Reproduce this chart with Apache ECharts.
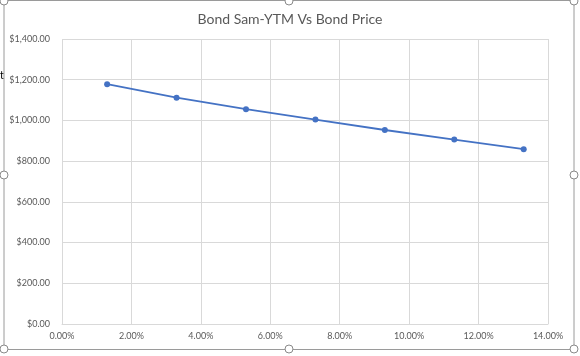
<!DOCTYPE html>
<html>
<head>
<meta charset="utf-8">
<script src="https://cdn.jsdelivr.net/npm/echarts@6/dist/echarts.min.js"></script>
<style>
html,body{margin:0;padding:0;background:#fff;}
#chart{width:580px;height:356px;}
</style>
</head>
<body>
<div id="chart"></div>
<script>
// Data
const ytm = [1.3, 3.3, 5.3, 7.3, 9.3, 11.3, 13.3];           // YTM in percent
const price = [1178, 1112, 1055, 1004, 953, 906, 859];         // bond price in $
const titleText = 'Bond Sam-YTM Vs Bond Price';

const points = ytm.map((x, i) => [x, price[i]]);
const fmtMoney = v => '$' + v.toLocaleString('en-US', {minimumFractionDigits: 2, maximumFractionDigits: 2});
const fmtPct = v => v.toFixed(2) + '%';

const chart = echarts.init(document.getElementById('chart'), null, {renderer: 'canvas'});

const handle = (x, y) => ({
  type: 'circle', shape: {cx: x, cy: y, r: 4},
  style: {fill: '#fff', stroke: '#8a8a8a', lineWidth: 1}, z: 100
});

chart.setOption({
  animation: false,
  backgroundColor: '#fff',
  title: {
    text: titleText, left: 'center', top: 7,
    textStyle: {fontFamily: 'Lato', fontSize: 14, fontWeight: 'normal', color: '#595959'}
  },
  grid: {left: 62, right: 32, top: 39, bottom: 32, containLabel: false},
  xAxis: {
    type: 'value', min: 0, max: 14, interval: 2,
    axisLine: {show: true, lineStyle: {color: '#d9d9d9'}},
    axisTick: {show: false},
    splitLine: {show: true, lineStyle: {color: '#d9d9d9', width: 1}},
    axisLabel: {formatter: fmtPct, color: '#595959', fontSize: 9, fontFamily: 'Lato', margin: 8}
  },
  yAxis: {
    type: 'value', min: 0, max: 1400, interval: 200,
    axisLine: {show: false},
    axisTick: {show: false},
    splitLine: {show: true, lineStyle: {color: '#d9d9d9', width: 1}},
    axisLabel: {formatter: fmtMoney, color: '#595959', fontSize: 9, fontFamily: 'Lato', margin: 12}
  },
  series: [{
    type: 'line', data: points,
    symbol: 'circle', symbolSize: 6,
    lineStyle: {color: '#4472C4', width: 1.8},
    itemStyle: {color: '#4472C4'}
  }],
  graphic: [
    {type: 'rect', shape: {x: 4, y: 0.5, width: 570, height: 349}, style: {fill: 'none', stroke: '#9a9a9a', lineWidth: 1}, z: 90},
    {type: 'text', left: 0, top: 70, style: {text: 't', fontSize: 11, fill: '#000', fontFamily: 'Lato'}, z: 80},
    handle(4, 1), handle(289, 1), handle(574, 1),
    handle(4, 175), handle(574, 175),
    handle(4, 349), handle(289, 349), handle(574, 349)
  ]
});
</script>
</body>
</html>
